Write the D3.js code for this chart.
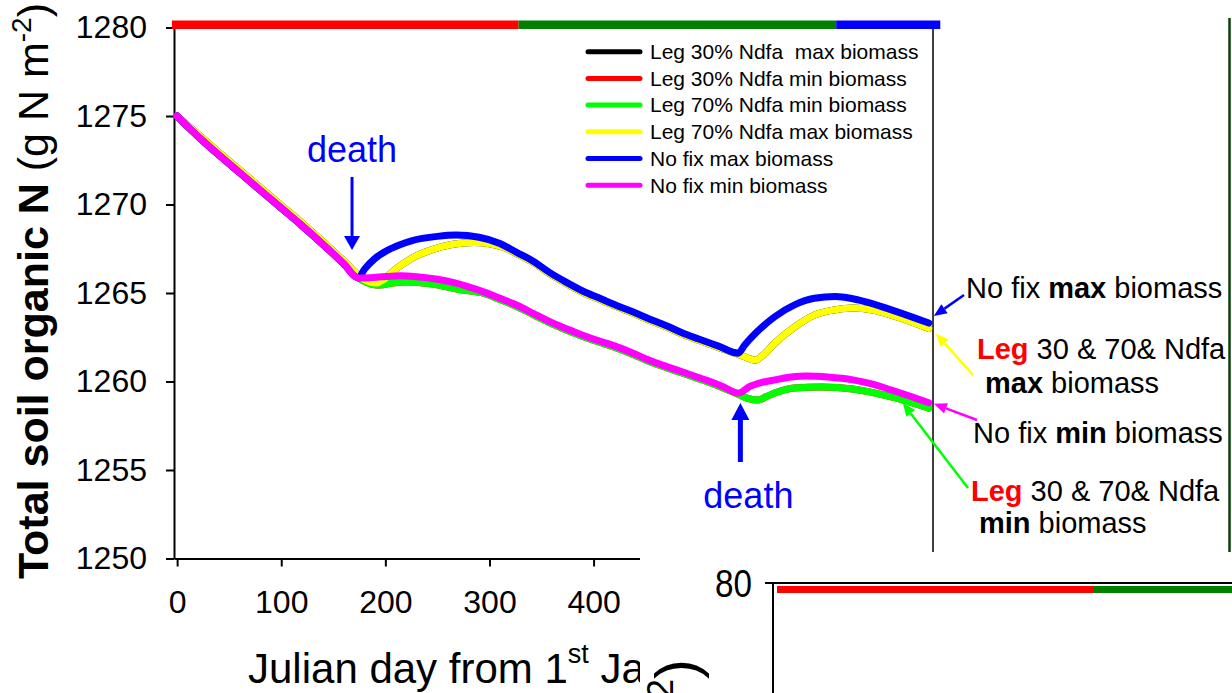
<!DOCTYPE html>
<html>
<head>
<meta charset="utf-8">
<script src="https://cdn.jsdelivr.net/npm/d3@7"></script>
<style>
  html, body { margin: 0; padding: 0; background: #fff; }
  svg { display: block; font-family: "Liberation Sans", Arial, Helvetica, sans-serif; }
  .pre { white-space: pre; }
</style>
</head>
<body>
<svg id="chart" width="1232" height="693"></svg>
<script>
// ---------------- data ----------------
const yTicks = [1250, 1255, 1260, 1265, 1270, 1275, 1280];
const xTicks = [0, 100, 200, 300, 400];

// crop-phase bar along the top of the plot (Julian days)
const phaseBands = [
  { from: -5,  to: 328, color: "#ff0000" },
  { from: 328, to: 633, color: "#008000" },
  { from: 633, to: 733, color: "#0000ff" }
];

const deathDays = [168, 541];

const seriesNames = [
  "Leg 30% Ndfa  max biomass",
  "Leg 30% Ndfa min biomass",
  "Leg 70% Ndfa min biomass",
  "Leg 70% Ndfa max biomass",
  "No fix max biomass",
  "No fix min biomass"
];
const seriesColors = ["#000000", "#ff0000", "#00ff00", "#ffff00", "#0000ff", "#ff00ff"];

// [day, total soil organic N]
const leg30Max = [[0,1275.0],[10,1274.48],[20,1273.97],[40,1272.95],[60,1271.95],[80,1270.95],[100,1269.95],[120,1268.95],[140,1267.9],[160,1266.82],[174,1266.0],[180,1265.75],[186,1265.6],[192,1265.57],[198,1265.75],[210,1266.35],[225,1266.95],[245,1267.45],[265,1267.75],[285,1267.85],[300,1267.78],[315,1267.55],[326,1267.23],[342,1266.73],[358,1266.08],[374,1265.53],[390,1265.03],[406,1264.63],[422,1264.23],[437,1263.88],[453,1263.48],[470,1263.08],[485,1262.68],[501,1262.33],[520,1261.93],[539,1261.53],[548,1261.33],[555,1261.2],[562,1261.45],[574,1262.17],[593,1263.07],[612,1263.75],[631,1264.04],[649,1264.15],[668,1264.04],[686,1263.75],[722,1263.0]];
const leg30Min = [[0,1275.0],[10,1274.4],[20,1273.85],[40,1272.8],[60,1271.8],[80,1270.8],[100,1269.8],[120,1268.8],[140,1267.75],[160,1266.65],[174,1265.85],[182,1265.6],[188,1265.48],[195,1265.45],[205,1265.55],[223,1265.62],[245,1265.5],[271,1265.2],[295,1264.98],[310,1264.63],[326,1264.25],[342,1263.78],[358,1263.31],[374,1262.91],[389,1262.56],[405,1262.23],[422,1261.9],[438,1261.53],[453,1261.14],[470,1260.78],[485,1260.48],[508,1260.01],[524,1259.65],[539,1259.28],[548,1259.05],[558,1258.95],[566,1259.15],[574,1259.35],[593,1259.63],[619,1259.69],[649,1259.58],[686,1259.13],[722,1258.5]];
const leg70Min = [[0,1275.0],[10,1274.4],[20,1273.85],[40,1272.8],[60,1271.8],[80,1270.8],[100,1269.8],[120,1268.8],[140,1267.75],[160,1266.65],[174,1265.85],[182,1265.6],[188,1265.48],[195,1265.45],[205,1265.55],[223,1265.62],[245,1265.5],[271,1265.2],[295,1264.98],[310,1264.63],[326,1264.25],[342,1263.78],[358,1263.31],[374,1262.91],[389,1262.56],[405,1262.23],[422,1261.9],[438,1261.53],[453,1261.14],[470,1260.78],[485,1260.48],[508,1260.01],[524,1259.65],[539,1259.28],[548,1259.05],[558,1258.95],[566,1259.15],[574,1259.35],[593,1259.63],[619,1259.69],[649,1259.58],[686,1259.13],[722,1258.5]];
const leg70Max = [[0,1275.0],[10,1274.48],[20,1273.97],[40,1272.95],[60,1271.95],[80,1270.95],[100,1269.95],[120,1268.95],[140,1267.9],[160,1266.82],[174,1266.0],[180,1265.75],[186,1265.6],[192,1265.57],[198,1265.75],[210,1266.35],[225,1266.95],[245,1267.45],[265,1267.75],[285,1267.85],[300,1267.78],[315,1267.55],[326,1267.23],[342,1266.73],[358,1266.08],[374,1265.53],[390,1265.03],[406,1264.63],[422,1264.23],[437,1263.88],[453,1263.48],[470,1263.08],[485,1262.68],[501,1262.33],[520,1261.93],[539,1261.53],[548,1261.33],[555,1261.2],[562,1261.45],[574,1262.17],[593,1263.07],[612,1263.75],[631,1264.04],[649,1264.15],[668,1264.04],[686,1263.75],[722,1263.0]];
const noFixMax = [[0,1275.0],[10,1274.4],[20,1273.85],[40,1272.8],[60,1271.8],[80,1270.8],[100,1269.8],[120,1268.8],[140,1267.75],[160,1266.65],[174,1265.85],[180,1266.35],[190,1266.95],[205,1267.5],[225,1267.95],[250,1268.2],[268,1268.27],[290,1268.15],[310,1267.8],[326,1267.3],[342,1266.8],[358,1266.15],[374,1265.6],[390,1265.1],[406,1264.7],[422,1264.3],[437,1263.95],[453,1263.55],[470,1263.15],[485,1262.75],[501,1262.4],[520,1262.0],[539,1261.6],[545,1262.05],[556,1262.75],[574,1263.66],[593,1264.33],[612,1264.7],[632,1264.8],[655,1264.6],[686,1264.05],[722,1263.3]];
const noFixMin = [[0,1275.0],[10,1274.4],[20,1273.85],[40,1272.8],[60,1271.8],[80,1270.8],[100,1269.8],[120,1268.8],[140,1267.75],[160,1266.65],[174,1265.85],[185,1265.86],[200,1265.93],[215,1265.97],[230,1265.92],[250,1265.78],[265,1265.6],[280,1265.35],[295,1265.05],[310,1264.7],[326,1264.32],[342,1263.85],[358,1263.38],[374,1262.98],[389,1262.63],[405,1262.3],[422,1261.97],[438,1261.6],[453,1261.21],[470,1260.85],[485,1260.55],[508,1260.08],[524,1259.72],[539,1259.35],[550,1259.72],[562,1259.95],[574,1260.09],[590,1260.25],[604,1260.31],[625,1260.25],[649,1260.09],[668,1259.85],[686,1259.52],[705,1259.15],[722,1258.8]];

const seriesData = [leg30Max, leg30Min, leg70Min, leg70Max, noFixMax, noFixMin];

// ---------------- chart ----------------
const svg = d3.select("#chart");
const W = 1232, H = 693;
svg.append("rect").attr("width", W).attr("height", H).attr("fill", "#fff");

const defs = svg.append("defs");
defs.append("clipPath").attr("id", "panel1clip")
  .append("rect").attr("x", 0).attr("y", 0).attr("width", 640).attr("height", H);
defs.append("clipPath").attr("id", "panel2clip")
  .append("rect").attr("x", 640).attr("y", 552).attr("width", W - 640).attr("height", H - 552);

const x = d3.scaleLinear().domain([-3, 726]).range([174, 933]);
const y = d3.scaleLinear().domain([1250, 1280]).range([558.5, 27.5]);

// axes
const yAxis = svg.append("g").attr("transform", "translate(174,0)")
  .call(d3.axisLeft(y).tickValues(yTicks).tickSize(8).tickSizeOuter(0).tickPadding(19).tickFormat(d3.format("d")));
const xAxis = svg.append("g").attr("transform", "translate(0,558.5)")
  .call(d3.axisBottom(x).tickValues(xTicks).tickSize(8).tickSizeOuter(0).tickPadding(24).tickFormat(d3.format("d")));
[yAxis, xAxis].forEach(g => {
  g.select(".domain").attr("stroke", "#000").attr("stroke-width", 2);
  g.selectAll(".tick line").attr("stroke", "#000").attr("stroke-width", 2);
  g.selectAll(".tick text").attr("fill", "#000").attr("font-size", 32)
    .attr("font-family", "'Liberation Sans', Arial, sans-serif");
});

// right frame line
svg.append("line")
  .attr("x1", x(726)).attr("x2", x(726)).attr("y1", y(1280)).attr("y2", y(1250))
  .attr("stroke", "#000").attr("stroke-width", 1.5);

// phase bar
svg.append("g").selectAll("rect").data(phaseBands).join("rect")
  .attr("x", d => x(d.from)).attr("width", d => x(d.to) - x(d.from))
  .attr("y", y(1280) - 7).attr("height", 8.5)
  .attr("fill", d => d.color);

// series lines
const line = d3.line().x(d => x(d[0])).y(d => y(d[1])).curve(d3.curveMonotoneX);
svg.append("g").selectAll("path").data(seriesData).join("path")
  .attr("d", line)
  .attr("fill", "none")
  .attr("stroke", (d, i) => seriesColors[i])
  .attr("stroke-width", 7)
  .attr("stroke-linejoin", "round")
  .attr("stroke-linecap", "round");

// legend
const legend = svg.append("g");
seriesNames.forEach((name, i) => {
  const ly = 51.7 + i * 26.7;
  legend.append("line").attr("x1", 588).attr("x2", 640).attr("y1", ly).attr("y2", ly)
    .attr("stroke", seriesColors[i]).attr("stroke-width", 5).attr("stroke-linecap", "round");
  legend.append("text").attr("class", "pre").attr("x", 650).attr("y", ly).attr("dy", "0.35em")
    .attr("font-size", 21).attr("fill", "#000").text(name);
});

// arrow helper
function arrow(x1, y1, x2, y2, color, sw, hl, hw) {
  const a = Math.atan2(y2 - y1, x2 - x1);
  const bx = x2 - hl * Math.cos(a), by = y2 - hl * Math.sin(a);
  const px = -Math.sin(a) * hw / 2, py = Math.cos(a) * hw / 2;
  svg.append("line").attr("x1", x1).attr("y1", y1).attr("x2", bx).attr("y2", by)
    .attr("stroke", color).attr("stroke-width", sw);
  svg.append("path")
    .attr("d", `M${x2},${y2}L${bx + px},${by + py}L${bx - px},${by - py}Z`)
    .attr("fill", color);
}

// death markers
const tip1 = y(1265.85) - 28;
arrow(x(deathDays[0]), tip1 - 73, x(deathDays[0]), tip1, "#0000ff", 3, 14, 16);
svg.append("text").attr("x", x(deathDays[0])).attr("y", 162).attr("text-anchor", "middle")
  .attr("font-size", 36).attr("fill", "#0000ff").text("death");

const tip2 = y(1259.35) + 10;
arrow(x(deathDays[1]), tip2 + 59, x(deathDays[1]), tip2, "#0000ff", 5, 17, 18);
svg.append("text").attr("x", x(deathDays[1]) + 8).attr("y", 508).attr("text-anchor", "middle")
  .attr("font-size", 36).attr("fill", "#0000ff").text("death");

// end-of-run labels
const endDay = 722;
arrow(964, 295, x(endDay) + 5, y(1263.3) - 7, "#0000ff", 2.5, 13, 11);
arrow(973, 375, x(endDay) + 7, y(1263.0) + 5, "#ffff00", 2.5, 13, 11);
arrow(977, 420, x(endDay) + 5, y(1258.8) + 1, "#ff00ff", 2.5, 13, 11);
arrow(968, 488, x(697), y(1258.95) + 3, "#00ff00", 2.5, 13, 11);

function richLabel(xp, yp, parts) {
  const t = svg.append("text").attr("class", "pre").attr("x", xp).attr("y", yp)
    .attr("font-size", 29).attr("fill", "#000");
  parts.forEach(p => {
    const s = t.append("tspan").text(p.t);
    if (p.b) s.attr("font-weight", "bold");
    if (p.c) s.attr("fill", p.c);
  });
}
richLabel(966, 298, [{t: "No fix "}, {t: "max", b: 1}, {t: " biomass"}]);
richLabel(977, 359, [{t: "Leg", b: 1, c: "#ff0000"}, {t: " 30 & 70& Ndfa"}]);
richLabel(985, 393, [{t: "max", b: 1}, {t: " biomass"}]);
richLabel(973, 443, [{t: "No fix "}, {t: "min", b: 1}, {t: " biomass"}]);
richLabel(971, 501, [{t: "Leg", b: 1, c: "#ff0000"}, {t: " 30 & 70& Ndfa"}]);
richLabel(979, 533, [{t: "min", b: 1}, {t: " biomass"}]);

// axis titles
const yTitle = svg.append("text").attr("transform", "translate(48,579) rotate(-90)")
  .attr("font-size", 43).attr("fill", "#000");
yTitle.append("tspan").attr("font-weight", "bold").text("Total soil organic N");
yTitle.append("tspan").attr("class", "pre").text(" (g N m");
yTitle.append("tspan").attr("font-size", 28).attr("dy", -17).text("-2");
yTitle.append("tspan").attr("dy", 17).text(")");

const xTitle = svg.append("g").attr("clip-path", "url(#panel1clip)")
  .append("text").attr("x", 248).attr("y", 683).attr("font-size", 42).attr("fill", "#000");
xTitle.append("tspan").text("Julian day from 1");
xTitle.append("tspan").attr("font-size", 27).attr("dy", -20).text("st");
xTitle.append("tspan").attr("class", "pre").attr("dy", 20).text(" Ja");

// neighbouring panel edge on the right
svg.append("line").attr("x1", 1229.5).attr("x2", 1229.5).attr("y1", 18).attr("y2", 552)
  .attr("stroke", "#0b3d0b").attr("stroke-width", 2.5);

// ---------------- lower panel (top-left corner) ----------------
svg.append("rect").attr("x", 640).attr("y", 552).attr("width", W - 640).attr("height", H - 552).attr("fill", "#fff");

const x2 = d3.scaleLinear().domain([-5, 328]).range([777, 1094]);
const y2 = d3.scaleLinear().domain([0, 80]).range([1200, 583]);

svg.append("g").selectAll("rect").data(phaseBands.slice(0, 2)).join("rect")
  .attr("x", d => x2(d.from)).attr("width", d => Math.min(x2(d.to), W) - x2(d.from))
  .attr("y", y2(80) + 3).attr("height", 7).attr("fill", d => d.color);

svg.append("line").attr("x1", 765).attr("x2", W).attr("y1", y2(80)).attr("y2", y2(80))
  .attr("stroke", "#000").attr("stroke-width", 2);
svg.append("line").attr("x1", 773).attr("x2", 773).attr("y1", y2(80)).attr("y2", H)
  .attr("stroke", "#000").attr("stroke-width", 2);
svg.append("text").attr("x", 752).attr("y", y2(80)).attr("dy", "0.36em").attr("text-anchor", "end")
  .attr("font-size", 38).attr("textLength", 37).attr("lengthAdjust", "spacingAndGlyphs")
  .attr("fill", "#000").text("80");

const y2Title = svg.append("g").attr("clip-path", "url(#panel2clip)")
  .append("text").attr("transform", "translate(697,659) rotate(-90)")
  .attr("text-anchor", "end").attr("font-size", 60).attr("fill", "#000");
y2Title.append("tspan").text("(g N m");
y2Title.append("tspan").attr("font-size", 36).attr("dy", -24).text("-2");
y2Title.append("tspan").attr("dy", 24).text(")");
</script>
</body>
</html>
